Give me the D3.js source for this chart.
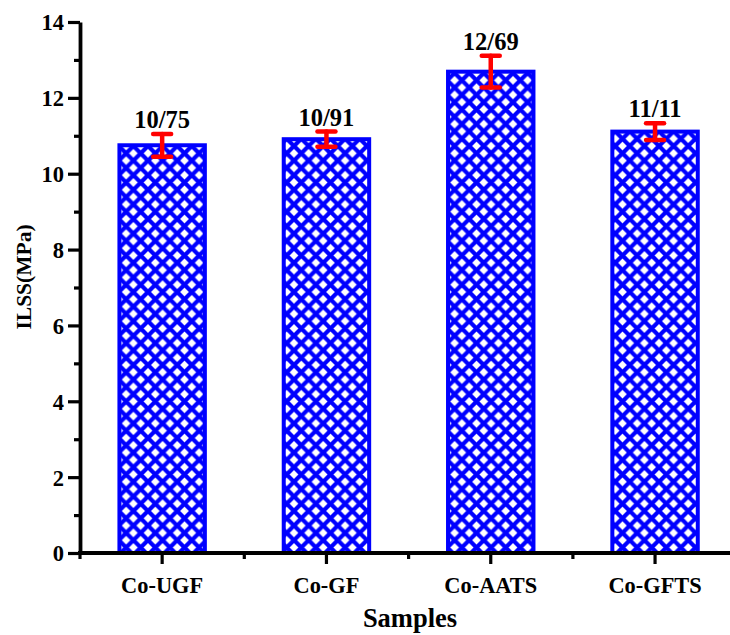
<!DOCTYPE html>
<html>
<head>
<meta charset="utf-8">
<script src="https://cdn.jsdelivr.net/npm/d3@7"></script>
<style>
  body { margin: 0; background: #fff; }
  text { font-family: "Liberation Serif", "Times New Roman", serif; font-weight: bold; }
</style>
</head>
<body>
<div id="chart"></div>
<script>
// Dati
const samples = ["Co-UGF", "Co-GF", "Co-AATS", "Co-GFTS"];
const ilss = [10.75, 10.91, 12.69, 11.11];
const errors = [0.30, 0.20, 0.42, 0.22];
const yTicks = [0, 2, 4, 6, 8, 10, 12, 14];
const yMinorTicks = [1, 3, 5, 7, 9, 11, 13];

const width = 730, height = 635;
const margin = { top: 22, right: 0, bottom: 82, left: 80 };

const svg = d3.select("#chart")
    .append("svg")
    .attr("width", width)
    .attr("height", height);

// Pattern a rete per le barre
const w = 14.6;
const pat = svg.append("defs").append("pattern")
    .attr("id", "hatch")
    .attr("patternUnits", "userSpaceOnUse")
    .attr("width", w).attr("height", w)
    .attr("x", 2).attr("y", 0);
pat.append("rect").attr("width", w).attr("height", w).attr("fill", "white");
let dPath = "";
[-1, 0, 1].forEach(k => { dPath += `M-1,${-1 + k * w}L${w + 1},${w + 1 + k * w}`; });
[0, 1, 2].forEach(k => { dPath += `M-1,${k * w + 1}L${w + 1},${k * w - w - 1}`; });
pat.append("path").attr("d", dPath).attr("stroke", "#0000ff").attr("stroke-width", 4.2);

// Scale
const x = d3.scaleBand()
    .domain(samples)
    .range([margin.left, margin.left + 4 * 164.3])
    .padding(0);

// y(0)=553, y(14)=22
const y = d3.scaleLinear()
    .domain([0, 14])
    .range([553, margin.top]);

const barW = x.bandwidth() * 0.52;

// Barre
svg.append("g")
    .selectAll("rect")
    .data(samples)
    .join("rect")
    .attr("x", (d) => x(d) + (x.bandwidth() - barW) / 2)
    .attr("y", (d, i) => y(ilss[i]))
    .attr("width", barW)
    .attr("height", (d, i) => y(0) - y(ilss[i]))
    .attr("fill", "url(#hatch)")
    .attr("stroke", "#0000ff")
    .attr("stroke-width", 4);

// Barre d'errore
const eb = svg.append("g")
    .attr("stroke", "#ff0000")
    .attr("stroke-width", 4.5)
    .attr("stroke-linecap", "round");
samples.forEach((s, i) => {
    const cx = x(s) + x.bandwidth() / 2;
    const top = y(ilss[i] + errors[i]);
    const bot = y(ilss[i] - errors[i]);
    eb.append("line").attr("x1", cx).attr("x2", cx).attr("y1", top).attr("y2", bot);
    eb.append("line").attr("x1", cx - 9).attr("x2", cx + 9).attr("y1", top).attr("y2", top);
    eb.append("line").attr("x1", cx - 9).attr("x2", cx + 9).attr("y1", bot).attr("y2", bot);
    // Etichetta valore
    svg.append("text")
        .attr("x", cx)
        .attr("y", top - 6)
        .attr("text-anchor", "middle")
        .style("font-size", "24.5px")
        .text(d3.format(".2f")(ilss[i]).replace(".", "/"));
});

// Asse Y
const yAxis = svg.append("g")
    .attr("transform", `translate(${margin.left},0)`)
    .call(d3.axisLeft(y).tickValues(yTicks).tickFormat(d3.format("d")).tickSize(12).tickSizeOuter(0).tickPadding(4));
yAxis.selectAll("text").style("font-size", "22.5px").attr("fill", "black").attr("dy", "0.35em");
yAxis.selectAll(".tick line").attr("stroke-width", 3.2);
yAxis.select(".domain").attr("stroke-width", 3.8);

svg.append("g")
    .attr("transform", `translate(${margin.left},0)`)
    .call(d3.axisLeft(y).tickValues(yMinorTicks).tickFormat("").tickSize(6).tickSizeOuter(0))
    .call(g => g.select(".domain").remove())
    .selectAll(".tick line").attr("stroke-width", 3.2);

// Asse X
const xAxis = svg.append("g")
    .attr("transform", `translate(0,${y(0)})`)
    .call(d3.axisBottom(x).tickSize(11).tickSizeOuter(0).tickPadding(13));
xAxis.select(".domain").attr("d", `M${margin.left - 2},0H${width}`).attr("stroke-width", 3.8);
xAxis.selectAll(".tick line").attr("stroke-width", 3.2);
xAxis.selectAll("text").style("font-size", "22.4px").attr("fill", "black");

// Tacche minori asse X (confini delle categorie)
svg.append("g")
    .selectAll("line")
    .data(samples)
    .join("line")
    .attr("x1", (d) => x(d)).attr("x2", (d) => x(d))
    .attr("y1", y(0)).attr("y2", y(0) + 6)
    .attr("stroke", "black")
    .attr("stroke-width", 3.2);

// Titoli assi
svg.append("text")
    .attr("x", 410)
    .attr("y", 627)
    .attr("text-anchor", "middle")
    .style("font-size", "26.5px")
    .text("Samples");

svg.append("text")
    .attr("transform", "translate(31,277) rotate(-90)")
    .attr("text-anchor", "middle")
    .style("font-size", "21.5px")
    .text("ILSS(MPa)");
</script>
</body>
</html>
